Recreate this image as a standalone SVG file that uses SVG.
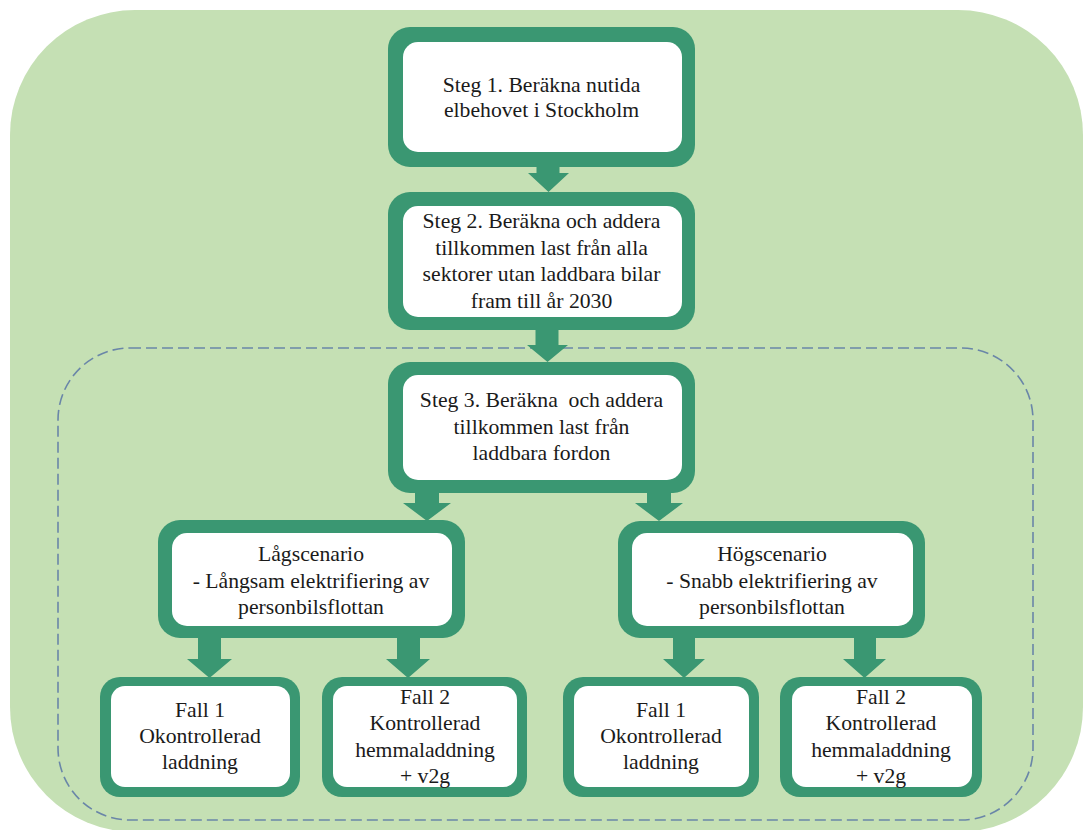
<svg xmlns="http://www.w3.org/2000/svg" width="1084" height="830" viewBox="0 0 1084 830">
  <style>
    .bg { fill: #c5e0b4; }
    .frame { fill: none; stroke: #6a86a8; stroke-width: 1.6; stroke-dasharray: 11 5; }
    .outer { fill: #3a9772; }
    .inner { fill: #ffffff; }
    .arrow { fill: #3a9772; }
    text { font-family: "Liberation Serif", "Times New Roman", serif; font-size: 21.7px; fill: #1a1a1a; text-anchor: middle; }
  </style>
  <rect class="bg" x="10" y="10" width="1073" height="822" rx="125" ry="125"/>
  <g id="scenario-frame">
    <rect class="frame" x="58" y="348" width="975" height="472" rx="72" ry="72"/>
  </g>
  <g id="connectors">
    <polygon class="arrow" points="536.5,160 559.5,160 559.5,173 569,173 548.5,192 528,173 536.5,173"/>
    <polygon class="arrow" points="535.5,323 558.5,323 558.5,345 568,345 547.5,362 527,345 535.5,345"/>
    <polygon class="arrow" points="415,486 439,486 439,503 451,503 427,521 403,503 415,503"/>
    <polygon class="arrow" points="647,486 671,486 671,503 683,503 659,521 635,503 647,503"/>
    <polygon class="arrow" points="198,631 221,631 221,659 232,659 209.5,678 187,659 198,659"/>
    <polygon class="arrow" points="397,631 420,631 420,659 430,659 408,678 386,659 397,659"/>
    <polygon class="arrow" points="673,631 695,631 695,659 705,659 684,678 663,659 673,659"/>
    <polygon class="arrow" points="854,631 876,631 876,659 886,659 864.5,678 843,659 854,659"/>
  </g>
  <g id="step1">
    <rect class="outer" x="388" y="27" width="307" height="140" rx="22"/>
    <rect class="inner" x="403" y="42" width="279" height="110" rx="15"/>
    <text x="541.5" y="92">Steg 1. Beräkna nutida</text>
    <text x="541.5" y="117">elbehovet i Stockholm</text>
  </g>
  <g id="step2">
    <rect class="outer" x="388" y="192" width="307" height="138" rx="22"/>
    <rect class="inner" x="403" y="206" width="279" height="111" rx="15"/>
    <text x="541.5" y="228">Steg 2. Beräkna och addera</text>
    <text x="541.5" y="254.5">tillkommen last från alla</text>
    <text x="541.5" y="281">sektorer utan laddbara bilar</text>
    <text x="541.5" y="307.5">fram till år 2030</text>
  </g>
  <g id="step3">
    <rect class="outer" x="388" y="362" width="307" height="131" rx="22"/>
    <rect class="inner" x="403" y="375" width="279" height="105" rx="15"/>
    <text x="541.5" y="407" xml:space="preserve">Steg 3. Beräkna  och addera</text>
    <text x="541.5" y="433.5">tillkommen last från</text>
    <text x="541.5" y="460">laddbara fordon</text>
  </g>
  <g id="low-scenario">
    <rect class="outer" x="158" y="520" width="307" height="118" rx="22"/>
    <rect class="inner" x="172" y="533" width="280" height="93" rx="15"/>
    <text x="311" y="561">Lågscenario</text>
    <text x="311" y="587.5">- Långsam elektrifiering av</text>
    <text x="311" y="614">personbilsflottan</text>
  </g>
  <g id="high-scenario">
    <rect class="outer" x="618" y="521" width="307" height="117" rx="22"/>
    <rect class="inner" x="632" y="533" width="281" height="93" rx="15"/>
    <text x="772" y="561">Högscenario</text>
    <text x="772" y="587.5">- Snabb elektrifiering av</text>
    <text x="772" y="614">personbilsflottan</text>
  </g>
  <g id="low-case1">
    <rect class="outer" x="100" y="677" width="200" height="120" rx="20"/>
    <rect class="inner" x="111" y="686" width="179" height="101" rx="14"/>
    <text x="200" y="717">Fall 1</text>
    <text x="200" y="743">Okontrollerad</text>
    <text x="200" y="769">laddning</text>
  </g>
  <g id="low-case2">
    <rect class="outer" x="322" y="677" width="205" height="120" rx="20"/>
    <rect class="inner" x="333" y="686" width="184" height="101" rx="14"/>
    <text x="425" y="704">Fall 2</text>
    <text x="425" y="730">Kontrollerad</text>
    <text x="425" y="757">hemmaladdning</text>
    <text x="425" y="783">+ v2g</text>
  </g>
  <g id="high-case1">
    <rect class="outer" x="563" y="677" width="196" height="120" rx="20"/>
    <rect class="inner" x="574" y="686" width="175" height="101" rx="14"/>
    <text x="661" y="717">Fall 1</text>
    <text x="661" y="743">Okontrollerad</text>
    <text x="661" y="769">laddning</text>
  </g>
  <g id="high-case2">
    <rect class="outer" x="780" y="677" width="202" height="120" rx="20"/>
    <rect class="inner" x="792" y="686" width="180" height="101" rx="14"/>
    <text x="881" y="704">Fall 2</text>
    <text x="881" y="730">Kontrollerad</text>
    <text x="881" y="757">hemmaladdning</text>
    <text x="881" y="783">+ v2g</text>
  </g>
</svg>
